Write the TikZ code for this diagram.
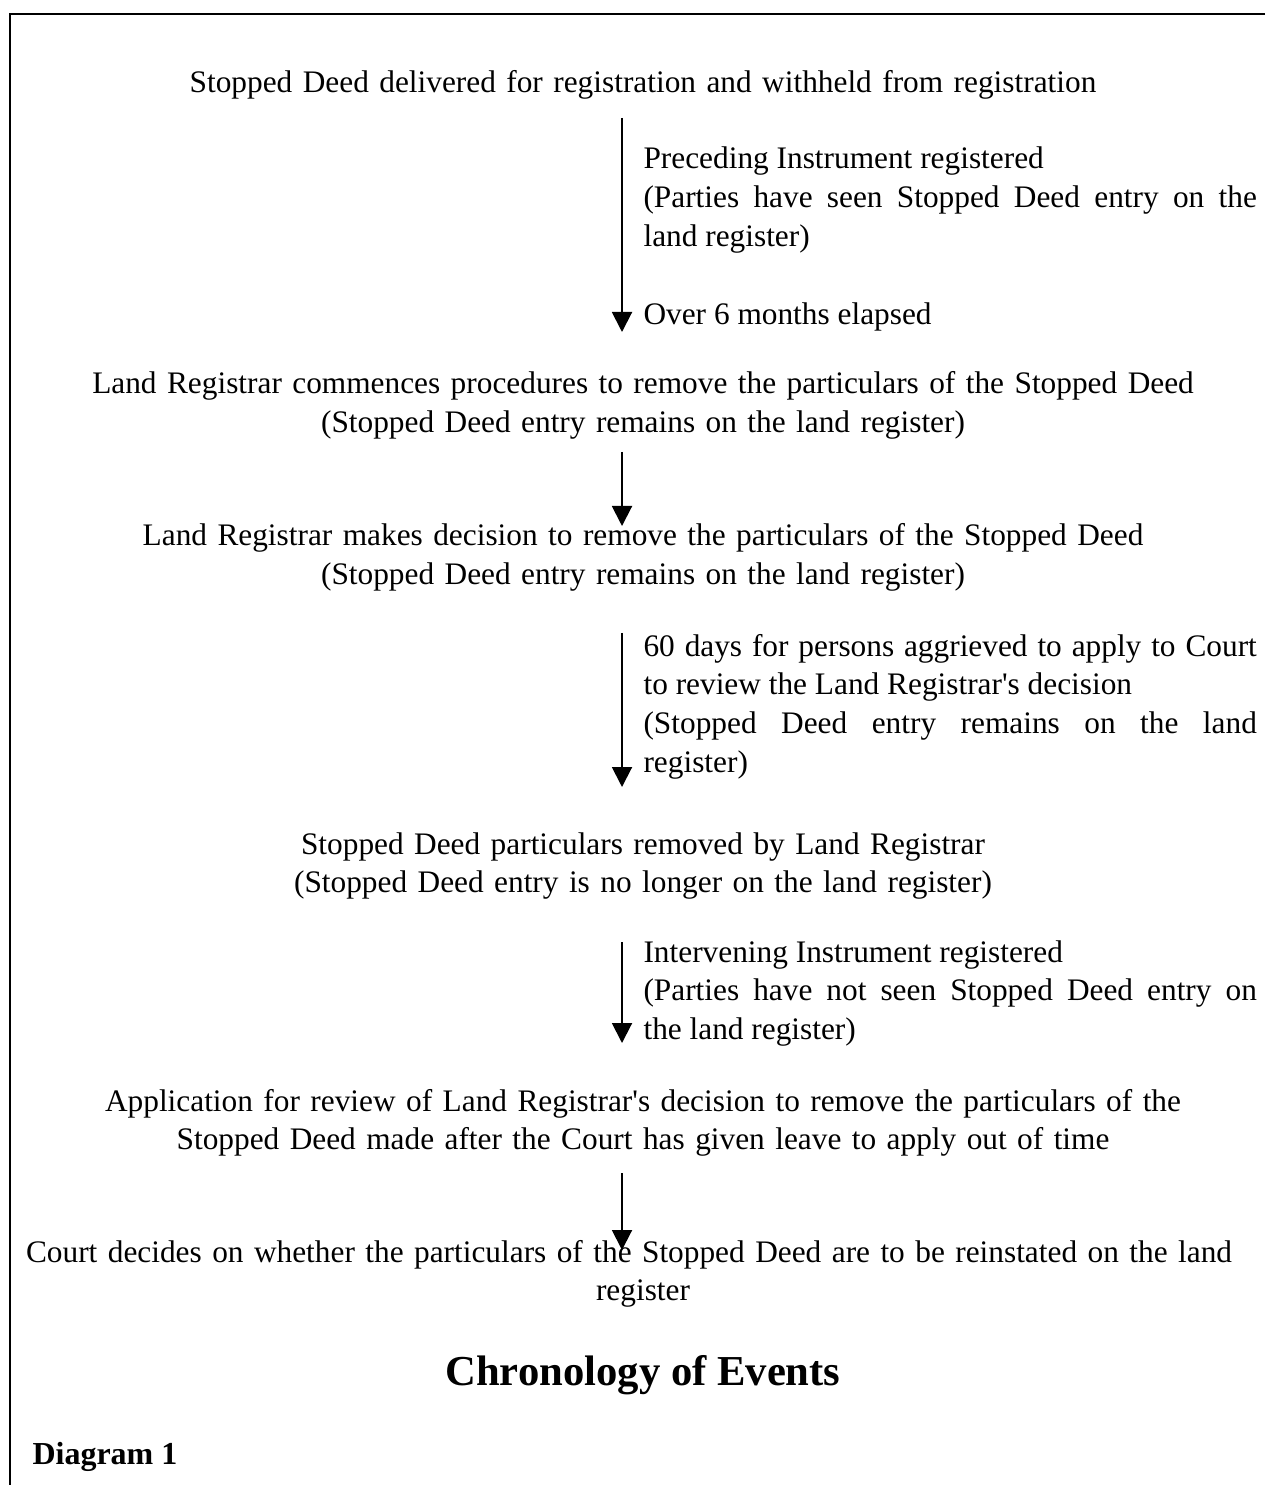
\documentclass[tikz,border=0pt]{standalone}
\usepackage{fontspec}
\setmainfont{Liberation Serif}
\usetikzlibrary{arrows.meta}
\hyphenpenalty=10000
\exhyphenpenalty=10000
\begin{document}
\begin{tikzpicture}[
    x=0.375pt, y=-0.375pt,
    every node/.style={font=\fontsize{11.75}{14.6}\selectfont, inner sep=0pt},
    event/.style={text width=472pt, align=center, anchor=base},
    note/.style={text width=230pt, align=justify, anchor=base west},
    heading/.style={font=\fontsize{16}{19}\selectfont\bfseries, anchor=base},
    frame/.style={line width=0.75pt},
    arr/.style={-{Triangle[width=7.5pt, length=7.5pt]}, line width=0.75pt}
]
\useasboundingbox (0,0) rectangle (1265,1485);
% Frame
\draw[frame] (1265,14) -- (10,14) -- (10,1485);

% Events
\node[event] (delivered) at (643, 93) {Stopped Deed delivered for registration and withheld from registration};
\node[event] (commences) at (643, 394) {Land Registrar commences procedures to remove the particulars of the Stopped Deed\\(Stopped Deed entry remains on the land register)};
\node[event] (decision) at (643, 546) {Land Registrar makes decision to remove the particulars of the Stopped Deed\\(Stopped Deed entry remains on the land register)};
\node[event] (removed) at (643, 854) {Stopped Deed particulars removed by Land Registrar\\(Stopped Deed entry is no longer on the land register)};
\node[event] (review) at (643, 1111) {Application for review of Land Registrar\textquotesingle s decision to remove the particulars of the\\Stopped Deed made after the Court has given leave to apply out of time};
\node[event] (court) at (643, 1262) {\hspace*{-10.5pt}Court decides on whether the particulars of the Stopped Deed are to be reinstated on the land\\register};

% Notes
\node[note] (preceding) at (643, 169) {Preceding Instrument registered\par (Parties have seen Stopped Deed entry on the\linebreak land register)};
\node[note] (elapsed) at (643, 325) {Over 6 months elapsed};
\node[note] (aggrieved) at (643, 656) {60 days for persons aggrieved to apply to Court to review the Land Registrar\textquotesingle s decision\par (Stopped Deed entry remains on the land\linebreak register)};
\node[note] (intervening) at (643, 962) {Intervening Instrument registered\par (Parties have not seen Stopped Deed entry on\linebreak the land register)};

% Titles
\node[heading] (chrono) at (643, 1385) {Chronology of Events};
\node[heading, font=\fontsize{12}{14.6}\selectfont\bfseries, anchor=base west] (diagram) at (32, 1464) {Diagram 1};

% Arrows
\coordinate (a1s) at (622, 118);
\coordinate (a1e) at (622, 332);
\coordinate (a2s) at (622, 452);
\coordinate (a2e) at (622, 526);
\coordinate (a3s) at (622, 633);
\coordinate (a3e) at (622, 787);
\coordinate (a4s) at (622, 942);
\coordinate (a4e) at (622, 1043);
\coordinate (a5s) at (622, 1173);
\coordinate (a5e) at (622, 1250);
\draw[arr] (a1s) -- (a1e);
\draw[arr] (a2s) -- (a2e);
\draw[arr] (a3s) -- (a3e);
\draw[arr] (a4s) -- (a4e);
\draw[arr] (a5s) -- (a5e);
\end{tikzpicture}
\end{document}
